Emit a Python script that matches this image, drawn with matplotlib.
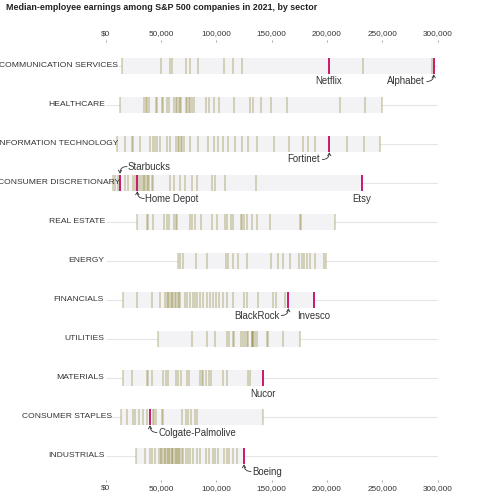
import matplotlib
matplotlib.use("Agg")
import matplotlib.pyplot as plt
import numpy as np

plt.rcParams['font.family'] = ['Liberation Sans', 'DejaVu Sans']

title = "Median-employee earnings among S&P 500 companies in 2021, by sector"

sectors = ["COMMUNICATION SERVICES", "HEALTHCARE", "INFORMATION TECHNOLOGY",
           "CONSUMER DISCRETIONARY", "REAL ESTATE", "ENERGY", "FINANCIALS",
           "UTILITIES", "MATERIALS", "CONSUMER STAPLES", "INDUSTRIALS"]

# median pay, thousands of dollars
comm = [15.2, 50.1, 58.3, 60.1, 72.7, 76.3, 83.2, 107.0, 115.4, 123.0, 232.9, 295.2]
health = [13.1, 35.1, 36.3, 37.8, 39.6, 45.3, 46.8, 50.7, 52.2, 55.2, 57.3, 61.9,
          63.7, 64.9, 66.1, 67.3, 68.5, 72.4, 73.9, 75.1, 76.6, 78.1, 80.2, 90.8,
          93.2, 98.0, 102.5, 116.3, 130.5, 132.9, 140.4, 149.2, 163.6, 211.8,
          234.4, 249.4]
infotech = [10.1, 17.6, 23.6, 25.1, 31.2, 40.2, 43.2, 45.0, 46.2, 49.2, 55.2, 58.3,
            63.7, 65.5, 66.7, 67.9, 69.1, 70.9, 76.3, 83.8, 92.9, 98.3, 101.3,
            106.4, 110.9, 117.0, 123.0, 128.4, 136.5, 152.5, 166.0, 178.1, 183.2,
            189.5, 217.8, 233.8, 247.9]
consdisc = [7.1, 8.6, 11.6, 17.6, 20.6, 25.1, 27.0, 30.0, 31.8, 33.6, 34.5, 35.7,
            37.2, 38.5, 39.6, 41.7, 43.2, 58.3, 61.9, 67.3, 71.8, 77.8, 82.3, 95.9,
            98.9, 107.9, 135.9]
realestate = [28.7, 37.2, 38.7, 43.2, 52.8, 55.2, 57.6, 61.9, 63.7, 64.9, 76.3, 77.8,
              80.8, 85.9, 95.9, 100.4, 107.9, 109.4, 113.0, 114.8, 122.1, 123.3,
              125.1, 127.5, 132.0, 136.5, 148.6, 175.7, 176.9, 207.3]
energy = [65.8, 67.3, 70.3, 81.4, 91.4, 108.5, 110.9, 115.4, 119.4, 127.5, 149.2,
          156.1, 160.6, 166.6, 174.8, 177.2, 179.3, 181.7, 184.7, 189.2, 197.6, 198.8]
financials = [15.5, 28.1, 41.7, 49.2, 53.7, 55.2, 56.7, 57.5, 58.9, 60.0, 61.3, 62.5,
              63.7, 65.8, 66.0, 67.3, 71.8, 73.9, 76.3, 78.7, 80.8, 82.9, 85.3, 88.4,
              91.4, 94.4, 97.4, 99.8, 102.8, 105.8, 109.4, 115.4, 125.4, 127.5,
              138.0, 151.0, 154.0, 162.4]
utilities = [47.7, 77.8, 91.4, 98.9, 109.4, 111.5, 114.8, 116.3, 122.1, 123.9, 126.0,
             127.5, 129.0, 132.0, 132.5, 133.0, 133.5, 135.0, 136.5, 145.5, 147.1,
             160.6, 175.7]
materials = [15.5, 24.2, 37.2, 38.7, 41.7, 52.2, 54.3, 56.1, 63.7, 65.8, 67.9, 73.9,
             75.7, 85.3, 86.8, 88.4, 90.8, 93.2, 95.3, 106.4, 109.4, 128.4, 130.5]
staples = [13.7, 19.1, 25.1, 26.6, 30.6, 34.2, 37.2, 42.6, 44.1, 45.6, 50.7, 52.2,
           68.8, 72.7, 74.8, 76.9, 80.8, 82.3, 142.5]
industrials = [27.5, 35.7, 40.2, 41.7, 44.7, 48.6, 50.1, 50.5, 51.6, 53.7, 54.0, 55.2,
               56.7, 57.5, 58.3, 59.8, 60.5, 61.3, 62.8, 63.5, 64.3, 65.8, 66.5, 67.3,
               68.8, 70.3, 72.7, 74.8, 76.3, 79.3, 82.3, 85.3, 90.8, 93.2, 97.4, 98.9,
               101.9, 107.0, 109.4, 111.8, 115.4, 118.5]

sector_values = [comm, health, infotech, consdisc, realestate, energy, financials,
                 utilities, materials, staples, industrials]

# highlighted companies
hl_company = ["Netflix", "Alphabet", "Fortinet", "Starbucks", "Home Depot", "Etsy",
              "BlackRock", "Invesco", "Nucor", "Colgate-Palmolive", "Boeing"]
hl_sector = [0, 0, 2, 3, 3, 3, 6, 6, 8, 9, 10]
hl_value = [201.8, 296.4, 202.1, 13.1, 28.7, 231.3, 165.1, 188.0, 142.5, 40.2, 125.1]
# label style: 'c' below centered, 'l' left with arrow, 'r' below-right arrow, 'u' above-right arrow
hl_style = ['c', 'l', 'l', 'u', 'r', 'c', 'l', 'c', 'c', 'r', 'r']

ticks = [0, 50000, 100000, 150000, 200000, 250000, 300000]
tick_labels = ["$0", "50,000", "100,000", "150,000", "200,000", "250,000", "300,000"]

# label right edge in pixels (long labels spill over)
label_right_px = [118, 105, 118, 120, 105, 104, 104, 104, 104, 112, 105]

W, H = 479, 500
fig = plt.figure(figsize=(W / 100, H / 100), dpi=100)
x0, x1 = 105.5, 437.7
top, bot = 42, 480
ax = fig.add_axes([x0 / W, (H - bot) / H, (x1 - x0) / W, (bot - top) / H])
row0, rowgap = 65.5, 39.0
ax.set_xlim(0, 300000)
ax.set_ylim((bot - row0) / rowgap, (top - row0) / rowgap)
kpx = 300000 / (x1 - x0)   # dollars per pixel
band_h = 16 / rowgap
olive = '#8c8032'
pink = '#c8196b'
txtc = '#333333'

for i, (name, vals) in enumerate(zip(sectors, sector_values)):
    v = np.array(vals) * 1000
    hv = [hl_value[k] * 1000 for k in range(len(hl_value)) if hl_sector[k] == i]
    allv = np.concatenate([v, hv]) if hv else v
    ax.plot([0, 300000], [i, i], color='#e6e6e6', lw=0.8, zorder=0, solid_capstyle='butt')
    ax.barh(i, allv.max() - allv.min(), left=allv.min(), height=band_h,
            color='#f3f3f5', zorder=1)
    ax.vlines(v, i - band_h / 2, i + band_h / 2, color=olive, alpha=0.36, lw=1.2, zorder=2)
    if hv:
        ax.vlines(hv, i - band_h / 2, i + band_h / 2, color=pink, lw=1.4, zorder=3)
    xr = (label_right_px[i] - x0) * kpx
    ax.text(xr, i, name, ha='right', va='center', fontsize=6.1, color=txtc, zorder=4)

dy = 16 / rowgap
arrow = dict(arrowstyle='->,head_length=0.2,head_width=0.12', lw=0.6, color=txtc,
             shrinkA=0, shrinkB=0, connectionstyle="angle3,angleA=0,angleB=90")
for name, s, val, st in zip(hl_company, hl_sector, hl_value, hl_style):
    v = val * 1000
    if st == 'c':
        ax.text(v, s + dy, name, ha='center', va='center', fontsize=6.9, color=txtc)
    elif st == 'l':
        ax.text(v - 9 * kpx, s + dy, name, ha='right', va='center', fontsize=6.9, color=txtc)
        ax.annotate('', xy=(v, s + band_h / 2 + 0.02), xytext=(v - 7 * kpx, s + dy),
                    arrowprops=arrow)
    elif st == 'r':
        ax.text(v + 8 * kpx, s + dy, name, ha='left', va='center', fontsize=6.9, color=txtc)
        ax.annotate('', xy=(v, s + band_h / 2 + 0.02), xytext=(v + 7 * kpx, s + dy),
                    arrowprops=arrow)
    else:
        ax.text(v + 8 * kpx, s - dy, name, ha='left', va='center', fontsize=6.9, color=txtc)
        ax.annotate('', xy=(v, s - band_h / 2 - 0.02), xytext=(v + 7 * kpx, s - dy),
                    arrowprops=arrow)

ax.set_xticks(ticks)
ax.set_xticklabels(tick_labels)
ax.tick_params(axis='x', top=True, labeltop=True, bottom=True, labelbottom=True,
               length=1.5, width=0.6, color='#999999', pad=2, labelsize=5.9,
               labelcolor=txtc)
ax.set_yticks([])
for sp in ax.spines.values():
    sp.set_visible(False)

fig.text(6 / W, 1 - 7.5 / H, title, ha='left', va='center', fontsize=6.4,
         fontweight='bold', color='#222222')

fig.savefig('out.png', dpi=100)
